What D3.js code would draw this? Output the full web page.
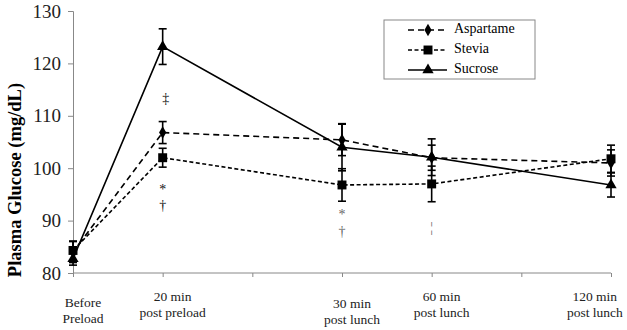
<!DOCTYPE html>
<html lang="en">
<head>
    <meta charset="UTF-8">
    <title>Plasma Glucose</title>
    <script src="https://cdn.jsdelivr.net/npm/d3@7"></script>
</head>
<body style="margin:0; background-color:#fff;">
<script>
    // time points (position on the x scale is the slot number)
    const timeLabels = [["Before", "Preload"], ["20 min", "post preload"], ["30 min", "post lunch"], ["60 min", "post lunch"], ["120 min", "post lunch"]];
    const timeSlots = [0, 1, 3, 4, 6];

    const seriesNames = ["Aspartame", "Stevia", "Sucrose"];
    const aspartame = [84.0, 106.8, 105.4, 102.0, 101.0];
    const aspartameErr = [2.0, 2.1, 3.0, 2.4, 2.5];
    const stevia = [84.3, 102.0, 96.8, 97.0, 101.8];
    const steviaErr = [1.8, 1.8, 3.1, 3.4, 2.6];
    const sucrose = [82.7, 123.2, 104.0, 102.1, 96.8];
    const sucroseErr = [1.2, 3.4, 4.5, 3.5, 2.3];

    const yTicks = [80, 90, 100, 110, 120, 130];

    // significance marks: [time index, symbol, glucose level]
    const marks = [[1, "\u2021", 113.0], [1, "*", 95.6], [1, "\u2020", 92.6],
                   [2, "*", 91.0], [2, "\u2020", 87.6], [3, "\u00a6", 88.5]];

    const width = 627, height = 330;
    const TIMES = "Times New Roman";
    const svg = d3.select("body").append("svg")
        .attr("width", width).attr("height", height);

    const x = d3.scaleLinear().domain([0, 6]).range([73, 611]);
    const y = d3.scaleLinear().domain([80, 130]).range([273, 11]);

    // axes
    const yAxis = svg.append("g").attr("transform", "translate(73,0)")
        .call(d3.axisLeft(y).tickValues(yTicks).tickSize(5).tickPadding(7));
    yAxis.select(".domain").attr("stroke", "#888");
    yAxis.selectAll(".tick line").attr("stroke", "#888");
    yAxis.selectAll(".tick text").style("font-family", TIMES).attr("font-size", 19).attr("fill", "#222");

    const xAxis = svg.append("g").attr("transform", `translate(0,${y(80)})`)
        .call(d3.axisBottom(x).tickValues(d3.range(0, 7)).tickSize(4).tickFormat(""));
    xAxis.select(".domain").attr("stroke", "#888").attr("d", `M${x(0)},0H${x(6)}`);
    xAxis.selectAll(".tick line").attr("stroke", "#888");

    // category labels
    const labelDrop = [6, 0, 7, 0, 0];
    timeLabels.forEach((lines, i) => {
        let cx = x(timeSlots[i]) + 10;
        const t = svg.append("text").style("font-family", TIMES).attr("font-size", 13.5)
            .attr("fill", "#222").attr("text-anchor", "middle");
        lines.forEach((s, k) => t.append("tspan").attr("x", cx).attr("y", 301 + labelDrop[i] + k * 16).text(s));
        const bb = t.node().getBBox();
        if (bb.x + bb.width > width - 4) t.selectAll("tspan").attr("x", cx - (bb.x + bb.width - (width - 4)));
    });

    // y title
    svg.append("text")
        .attr("transform", `translate(21,${(y(80) + y(130)) / 2 + 38}) rotate(-90)`)
        .style("font-family", TIMES)
        .attr("text-anchor", "middle").attr("font-size", 18.5).attr("font-weight", "bold")
        .text("Plasma Glucose (mg/dL)");

    const series = [
        {name: seriesNames[0], vals: aspartame, err: aspartameErr, dash: "6,4", marker: d3.symbolDiamond, size: 45},
        {name: seriesNames[1], vals: stevia, err: steviaErr, dash: "4,2.5", marker: d3.symbolSquare, size: 80},
        {name: seriesNames[2], vals: sucrose, err: sucroseErr, dash: null, marker: d3.symbolTriangle, size: 55}
    ];

    const line = d3.line().x((d, i) => x(timeSlots[i])).y(d => y(d));

    // error bars
    series.forEach(s => {
        const g = svg.append("g").attr("stroke", "#000").attr("stroke-width", 1.6);
        s.vals.forEach((v, i) => {
            const cx = x(timeSlots[i]);
            g.append("line").attr("x1", cx).attr("x2", cx).attr("y1", y(v + s.err[i])).attr("y2", y(v - s.err[i]));
            [v + s.err[i], v - s.err[i]].forEach(e =>
                g.append("line").attr("x1", cx - 4).attr("x2", cx + 4).attr("y1", y(e)).attr("y2", y(e)));
        });
    });

    // lines and markers
    series.forEach(s => {
        svg.append("path").datum(s.vals).attr("d", line)
            .attr("fill", "none").attr("stroke", "#000").attr("stroke-width", 1.6)
            .attr("stroke-dasharray", s.dash);
        svg.selectAll(null).data(s.vals).enter().append("path")
            .attr("d", d3.symbol().type(s.marker).size(s.size))
            .attr("transform", (d, i) => `translate(${x(timeSlots[i])},${y(d)})`)
            .attr("fill", "#000");
    });

    // significance marks
    marks.forEach(([i, sym, v]) => {
        svg.append("text").attr("x", x(timeSlots[i]) + (sym === "\u2021" ? 3 : 0)).attr("y", y(v))
            .style("font-family", TIMES)
            .attr("text-anchor", "middle").attr("dominant-baseline", "middle")
            .attr("font-size", 14).attr("fill", i >= 2 ? "#666" : "#111").text(sym);
    });

    // legend
    const lg = svg.append("g").attr("transform", "translate(384,20)");
    lg.append("rect").attr("width", 151).attr("height", 59).attr("fill", "#fff").attr("stroke", "#888");
    series.forEach((s, k) => {
        const ly = 10 + k * 20;
        lg.append("line").attr("x1", 24).attr("x2", 63).attr("y1", ly).attr("y2", ly)
            .attr("stroke", "#000").attr("stroke-width", 1.6).attr("stroke-dasharray", s.dash);
        lg.append("path").attr("d", d3.symbol().type(s.marker).size(s.size))
            .attr("transform", `translate(44,${ly})`).attr("fill", "#000");
        lg.append("text").attr("x", 70).attr("y", ly).attr("dominant-baseline", "middle")
            .style("font-family", TIMES).attr("font-size", 14).text(s.name);
    });
</script>
</body>
</html>
